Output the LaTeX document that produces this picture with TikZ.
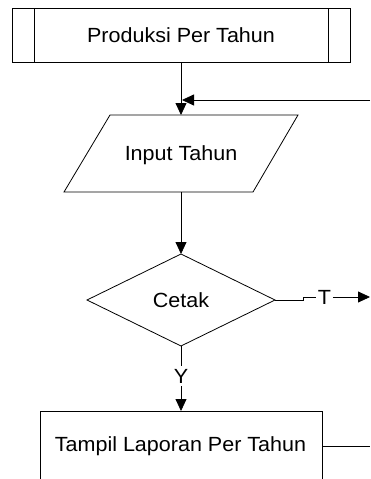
\documentclass[tikz,border=0pt]{standalone}
\usepackage{fontspec}
\setmainfont[FakeStretch=1.05]{Liberation Sans}
\usetikzlibrary{arrows.meta}
\begin{document}
\begin{tikzpicture}[x=1pt,y=-1pt, line width=0.8pt,
  lbl/.style={font=\fontsize{20.5}{24}\selectfont, inner sep=0pt},
  arr/.style={-{Triangle[length=12pt,width=11pt]}}]
\useasboundingbox (0,0) rectangle (370,479);
\clip (0,0) rectangle (370,479);
% top predefined process box
\draw (12,8) rectangle (350,62);
\draw (34,8) -- (34,62) (328,8) -- (328,62);
\node[lbl] (prod) at (181,35) {Produksi Per Tahun};
\coordinate (prodB) at (181,62);
% input parallelogram
\draw (110,115) -- (298,115) -- (253,192) -- (64,192) -- cycle;
\coordinate (inT) at (181,115);
\coordinate (inB) at (181,192);
\node[lbl] (input) at (181,155) {Input Tahun};
% loop-back arrow from the right
\coordinate (loopR) at (370,100);
\coordinate (loopT) at (182,100);
% decision diamond
\draw (181,254) -- (275,300) -- (181,346) -- (87,300) -- cycle;
\coordinate (dT) at (181,254);
\coordinate (dR) at (275,300);
\coordinate (dB) at (181,346);
\node[lbl] (cetak) at (181,300) {Cetak};
% bottom process box
\draw (40,411) rectangle (322,500);
\coordinate (bT) at (181,411);
\coordinate (bR) at (322,446);
\node[lbl] (tampil) at (180.5,446) {Tampil Laporan Per Tahun};
% labels
\node[lbl, inner xsep=1.5pt] (T) at (324.5,297) {T};
\node[lbl, inner ysep=3pt] (Y) at (181,376) {Y};
\coordinate (tStep1) at (303,300);
\coordinate (tStep2) at (303,297);
\coordinate (tEnd) at (370,297);
\coordinate (bEnd) at (370,446);
% connectors
\draw[arr] (prodB) -- (inT);
\draw[arr] (loopR) -- (loopT);
\draw[arr] (inB) -- (dT);
\draw (dR) -- (tStep1) -- (tStep2) -- (T.west);
\draw[arr] (T.east) -- (tEnd);
\draw (dB) -- (Y.north);
\draw[arr] (Y.south) -- (bT);
\draw (bR) -- (bEnd);
\end{tikzpicture}
\end{document}
